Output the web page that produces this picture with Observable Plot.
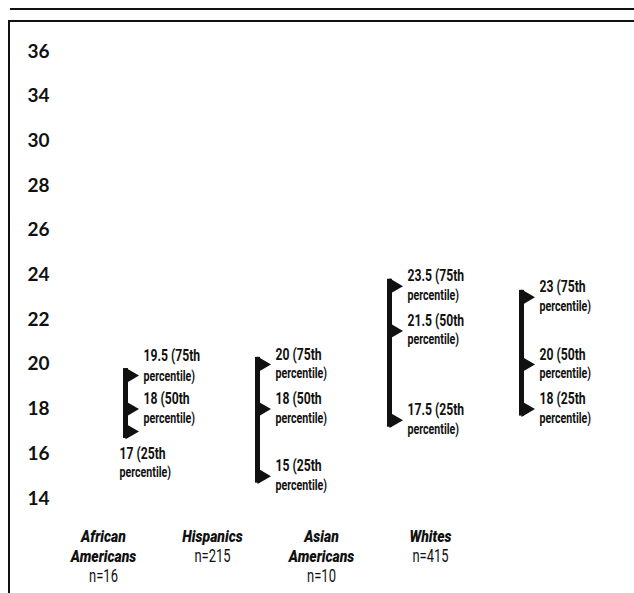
<!DOCTYPE html>
<html>
<head>
<meta charset="utf-8">
<script src="https://cdn.jsdelivr.net/npm/d3@7"></script>
<script src="https://cdn.jsdelivr.net/npm/@observablehq/plot@0.6"></script>
<style>
  html, body { margin: 0; padding: 0; background: #fff; }
  body { width: 634px; height: 593px; position: relative; overflow: hidden; }
  #topline { position: absolute; top: 8px; left: 10px; right: 0; height: 2px; background: #111; }
  #box { position: absolute; top: 20px; left: 8px; right: 0; bottom: 0; border-top: 2px solid #111; border-left: 2px solid #111; }
  #chart { position: absolute; top: 0; left: 0; }
  #groups { position: absolute; top: 515px; left: 0; }
</style>
</head>
<body>
<div id="topline"></div>
<div id="box"></div>
<div id="chart"></div>
<div id="groups"></div>
<script>
// ---- data ----
const categories = ["African Americans", "Hispanics", "Asian Americans", "Whites"];
const categoryLines = ["African\nAmericans", "Hispanics", "Asian\nAmericans", "Whites"];
const sampleSizes = [16, 215, 10, 415];
const p25 = [17, 15, 17.5, 18];
const p50 = [18, 18, 21.5, 20];
const p75 = [19.5, 20, 23.5, 23];
const percentileNames = ["25th", "50th", "75th"];
const yTickValues = [14, 16, 18, 20, 22, 24, 26, 28, 30, 32, 34];
const yTickLabels = ["14", "16", "18", "20", "22", "24", "26", "28", "30", "34", "36"];

// ---- derived tables ----
const ranges = categories.map((c, i) => ({cat: c, lo: p25[i], hi: p75[i]}));
const points = [];
categories.forEach((c, i) => {
  [p25[i], p50[i], p75[i]].forEach((v, k) => {
    const below = k === 0 && (p50[i] - p25[i]) < 1.5;   // crowded 25th label goes under the bar
    const raised = k === 2 && (p75[i] - p50[i]) < 2;     // crowded 75th label is lifted
    points.push({cat: c, value: v, line1: `${v} (${percentileNames[k]}`, line2: "percentile)", below, raised});
  });
});
const side = points.filter(d => !d.below && !d.raised);
const sideUp = points.filter(d => d.raised);
const under = points.filter(d => d.below);

const font = "Roboto, 'Noto Sans', sans-serif";
const pctStyle1 = {fontSize: 16, fontWeight: "bold", fontFamily: font, fill: "#111"};
const pctStyle2 = {fontSize: 14, fontWeight: "bold", fontFamily: font, fill: "#111"};

const chart = Plot.plot({
  width: 634,
  height: 515,
  marginTop: 51,
  marginBottom: 17,
  marginLeft: 20,
  marginRight: 113,
  style: {background: "transparent", overflow: "visible", color: "#111"},
  x: {type: "point", domain: categories, padding: 0, insetLeft: 104, axis: null},
  y: {domain: [14, 34]},
  marks: [
    Plot.axisY({
      ticks: yTickValues,
      tickFormat: d => yTickLabels[yTickValues.indexOf(d)],
      tickSize: 0,
      tickPadding: 0,
      textAnchor: "start",
      dx: 7,
      fontSize: 19,
      fontWeight: "bold",
      fontFamily: "Lato, 'DejaVu Sans', sans-serif",
      fill: "#111",
      label: null
    }),
    Plot.ruleX(ranges, {x: "cat", y1: "hi", y2: "lo", stroke: "#111", strokeWidth: 5, insetTop: -7, insetBottom: -7}),
    Plot.dot(points, {x: "cat", y: "value", symbol: "triangle", rotate: 90, r: 5.8, fill: "#111", stroke: "none", dx: 4.5}),
    Plot.text(side, {x: "cat", y: "value", text: "line1", textAnchor: "start", dx: 18, dy: -10, ...pctStyle1}),
    Plot.text(side, {x: "cat", y: "value", text: "line2", textAnchor: "start", dx: 18, dy: 9, ...pctStyle2}),
    Plot.text(sideUp, {x: "cat", y: "value", text: "line1", textAnchor: "start", dx: 18, dy: -20, ...pctStyle1}),
    Plot.text(sideUp, {x: "cat", y: "value", text: "line2", textAnchor: "start", dx: 18, dy: 1, ...pctStyle2}),
    Plot.text(under, {x: "cat", y: "value", text: "line1", textAnchor: "start", dx: -6, dy: 22, ...pctStyle1}),
    Plot.text(under, {x: "cat", y: "value", text: "line2", textAnchor: "start", dx: -6, dy: 41, ...pctStyle2})
  ]
});
document.getElementById("chart").append(chart);

// narrow the label glyphs to mimic the condensed typeface of the original
function condense(groupEl, factor) {
  groupEl.querySelectorAll("text").forEach(t => {
    const len = t.getComputedTextLength();
    t.setAttribute("textLength", (len * factor).toFixed(1));
    t.setAttribute("lengthAdjust", "spacingAndGlyphs");
  });
}
chart.querySelectorAll('g[aria-label="text"]').forEach(g => condense(g, 0.76));

// ---- group labels ----
const labelRows = [];
categories.forEach((c, i) => {
  const lines = categoryLines[i].split("\n");
  lines.forEach((t, j) => labelRows.push({cat: c, line: j, text: t, kind: "name"}));
  labelRows.push({cat: c, line: lines.length, text: `n=${sampleSizes[i]}`, kind: "n"});
});

const groups = Plot.plot({
  width: 634,
  height: 78,
  marginTop: 21,
  marginBottom: 17,
  marginLeft: 103,
  marginRight: 204,
  style: {background: "transparent", overflow: "visible"},
  x: {type: "point", domain: categories, padding: 0, axis: null},
  y: {domain: [0, 2], reverse: true, axis: null},
  marks: [
    Plot.text(labelRows.filter(d => d.kind === "name"), {x: "cat", y: "line", text: "text", fontSize: 17, fontWeight: "900", fontStyle: "italic", fontFamily: font, fill: "#111"}),
    Plot.text(labelRows.filter(d => d.kind === "n"), {x: "cat", y: "line", text: "text", fontSize: 18, fontFamily: font, fill: "#111"})
  ]
});
document.getElementById("groups").append(groups);
const gTexts = groups.querySelectorAll('g[aria-label="text"]');
condense(gTexts[0], 0.82);
condense(gTexts[1], 0.72);
</script>
</body>
</html>
